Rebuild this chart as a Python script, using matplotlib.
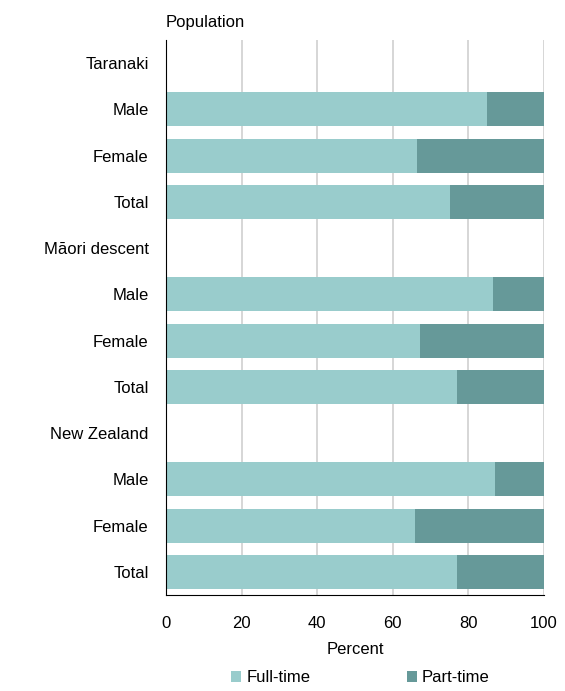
import matplotlib
matplotlib.use("Agg")
import matplotlib.pyplot as plt
import numpy as np

labels = ["Taranaki", "Male", "Female", "Total",
          "Māori descent", "Male", "Female", "Total",
          "New Zealand", "Male", "Female", "Total"]
full_time = [np.nan, 85.0, 66.5, 75.0, np.nan, 86.6, 67.1, 77.1, np.nan, 87.1, 66.0, 77.1]
part_time = [np.nan, 15.0, 33.5, 25.0, np.nan, 13.4, 32.9, 22.9, np.nan, 12.9, 34.0, 22.9]

plt.rcParams['font.family'] = ['Liberation Sans', 'DejaVu Sans']

fig = plt.figure(figsize=(5.65, 6.91), dpi=100)
ax = fig.add_axes([166/565, 1-595/691, (544-166)/565, (595-40)/691])

y = np.arange(len(labels))
c_full = "#99CCCC"
c_part = "#669999"
ax.barh(y, full_time, height=0.74, color=c_full, label="Full-time", zorder=3)
ax.barh(y, part_time, left=full_time, height=0.74, color=c_part, label="Part-time", zorder=3)

ax.set_ylim(len(labels) - 0.5, -0.5)
ax.set_xlim(0, 100)
ax.set_xticks([0, 20, 40, 60, 80, 100])
ax.set_yticks(y)
ax.set_yticklabels(labels, fontsize=12)
ax.tick_params(axis='both', length=0, labelsize=12)
ax.tick_params(axis='y', pad=18)
ax.tick_params(axis='x', pad=15)
ax.xaxis.grid(True, color="#d0d0d0", linewidth=1.2, zorder=0)
for s in ["top", "right"]:
    ax.spines[s].set_visible(False)
ax.spines["left"].set_color("black")
ax.spines["bottom"].set_color("black")
ax.spines["left"].set_zorder(4)
ax.spines["bottom"].set_zorder(4)
for t in ax.get_yticklabels():
    t.set_x(t.get_position()[0] + 0.02)

ax.set_xlabel("Percent", fontsize=12, labelpad=8)
fig.text(166/565, 1-22/691, "Population", fontsize=12, va="center", ha="left")

leg = fig.legend(loc="center", bbox_to_anchor=(0.638, 1-678/691),
                 ncol=2, frameon=False, fontsize=12, handlelength=0.6, handleheight=0.6,
                 handletextpad=0.3, columnspacing=5.8)

fig.savefig("out.png", dpi=100)
